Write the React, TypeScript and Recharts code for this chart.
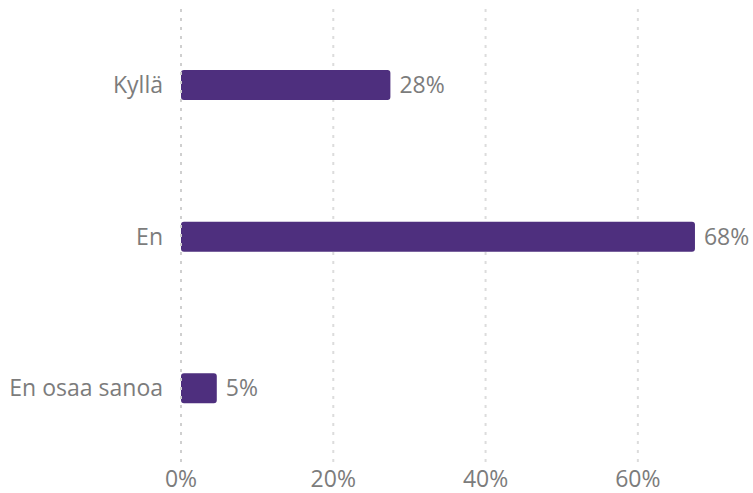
import React from "react"
import { Bar, BarChart, CartesianGrid, LabelList, XAxis, YAxis } from "recharts"

const answers = ["Kyllä", "En", "En osaa sanoa"]
const shares = [27.5, 67.5, 4.7]
const xTicks = [0, 20, 40, 60]

const data = answers.map((answer, i) => ({ answer, share: shares[i] }))

const textStyle = { fill: "#7c7c7c", fontSize: 23, fontFamily: "'Open Sans', sans-serif" }

export default function App() {
  return (
    <div style={{ position: "absolute", left: 0, top: 0, background: "#fff" }}>
      <BarChart
        width={753}
        height={493}
        data={data}
        layout="vertical"
        margin={{ top: 9, right: 39, bottom: 0, left: 0 }}
      >
        <CartesianGrid
          horizontal={false}
          verticalValues={xTicks}
          stroke="#dcdcdc"
          strokeWidth={2}
          strokeDasharray="3 6"
        />
        <XAxis
          type="number"
          domain={[0, 70]}
          ticks={xTicks}
          tickFormatter={(v: number) => `${v}%`}
          axisLine={false}
          tickLine={false}
          tick={textStyle}
          tickMargin={1}
          height={29}
        />
        <YAxis
          type="category"
          dataKey="answer"
          width={181}
          axisLine={{ stroke: "#cfcfcf", strokeWidth: 2, strokeDasharray: "3 6" }}
          tickLine={false}
          tickMargin={12}
          tick={textStyle}
        />
        <Bar dataKey="share" fill="#4e2f7e" barSize={30} radius={3} isAnimationActive={false}>
          <LabelList
            dataKey="share"
            position="right"
            offset={9}
            formatter={(v: number) => `${Math.round(v)}%`}
            style={textStyle}
          />
        </Bar>
      </BarChart>
    </div>
  )
}
